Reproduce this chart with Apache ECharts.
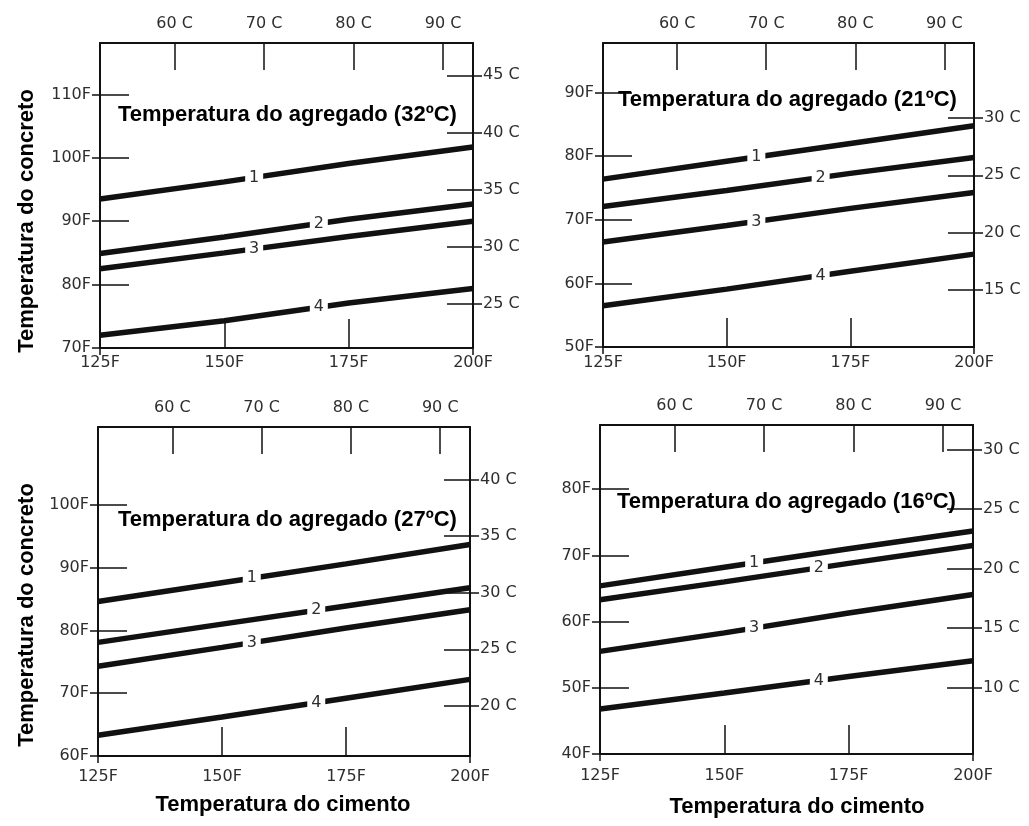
<!DOCTYPE html>
<html>
<head>
<meta charset="utf-8">
<script src="https://cdn.jsdelivr.net/npm/echarts@6/dist/echarts.min.js"></script>
<style>
  html, body { margin: 0; padding: 0; background: #fff; }
  #chart { width: 1029px; height: 826px; }
</style>
</head>
<body>
<div id="chart"></div>
<script>
// Cement temperature (°F) at which every curve is sampled
const cementF = [125, 150, 175, 200];
// Bottom (°F) and top (°C) tick values for cement temperature
const cementTicksF = [125, 150, 175, 200];
const cementTicksC = [60, 70, 80, 90];
// Curve identifiers and the cement temperature where each label sits
const curveIds = ['1', '2', '3', '4'];
const curveLabelF = [156, 169, 156, 169];

const panelTitles = [
  'Temperatura do agregado (32ºC)',
  'Temperatura do agregado (21ºC)',
  'Temperatura do agregado (27ºC)',
  'Temperatura do agregado (16ºC)'
];
const yName = 'Temperatura do concreto';
const xName = 'Temperatura do cimento';

// Aggregate at 32 °C: concrete temperature (°F)
const agg32Curve1 = [93.5, 96.2, 99.1, 101.7];
const agg32Curve2 = [84.9, 87.5, 90.3, 92.7];
const agg32Curve3 = [82.5, 85.0, 87.6, 90.0];
const agg32Curve4 = [72.0, 74.3, 77.1, 79.4];
const agg32TicksF = [70, 80, 90, 100, 110];
const agg32TicksC = [25, 30, 35, 40, 45];
const agg32RangeF = [70, 118.1];

// Aggregate at 21 °C
const agg21Curve1 = [76.4, 79.2, 82.0, 84.8];
const agg21Curve2 = [72.1, 74.6, 77.3, 79.8];
const agg21Curve3 = [66.5, 69.1, 71.8, 74.3];
const agg21Curve4 = [56.5, 59.1, 61.9, 64.6];
const agg21TicksF = [50, 60, 70, 80, 90];
const agg21TicksC = [15, 20, 25, 30];
const agg21RangeF = [50, 97.8];

// Aggregate at 27 °C
const agg27Curve1 = [84.6, 87.6, 90.6, 93.7];
const agg27Curve2 = [78.1, 81.0, 83.9, 86.8];
const agg27Curve3 = [74.3, 77.3, 80.4, 83.3];
const agg27Curve4 = [63.3, 66.2, 69.2, 72.2];
const agg27TicksF = [60, 70, 80, 90, 100];
const agg27TicksC = [20, 25, 30, 35, 40];
const agg27RangeF = [60, 112.4];

// Aggregate at 16 °C
const agg16Curve1 = [65.4, 68.2, 71.0, 73.7];
const agg16Curve2 = [63.3, 66.0, 68.8, 71.5];
const agg16Curve3 = [55.5, 58.3, 61.3, 64.1];
const agg16Curve4 = [46.8, 49.2, 51.7, 54.1];
const agg16TicksF = [40, 50, 60, 70, 80];
const agg16TicksC = [10, 15, 20, 25, 30];
const agg16RangeF = [40, 89.7];

const fToC = f => (f - 32) * 5 / 9;
const interp = (xs, ys, x) => {
  for (let j = 0; j < xs.length - 1; j++) {
    if (x >= xs[j] && x <= xs[j + 1]) {
      const t = (x - xs[j]) / (xs[j + 1] - xs[j]);
      return ys[j] + t * (ys[j + 1] - ys[j]);
    }
  }
  return ys[ys.length - 1];
};

const INK = '#111';
const LETTER = '#2e2e2e';
const TICK_FONT = 'DejaVu Sans';
const BOLD_FONT = 'bold 22px "Liberation Sans", Arial, sans-serif';

const panels = [
  { title: panelTitles[0], curves: [agg32Curve1, agg32Curve2, agg32Curve3, agg32Curve4],
    ticksF: agg32TicksF, ticksC: agg32TicksC, rangeF: agg32RangeF,
    box: { left: 100, top: 43, width: 373, height: 305 }, titleAt: [118, 115], bottomMargin: 7 },
  { title: panelTitles[1], curves: [agg21Curve1, agg21Curve2, agg21Curve3, agg21Curve4],
    ticksF: agg21TicksF, ticksC: agg21TicksC, rangeF: agg21RangeF,
    box: { left: 603, top: 43, width: 371, height: 304 }, titleAt: [618, 100], bottomMargin: 8 },
  { title: panelTitles[2], curves: [agg27Curve1, agg27Curve2, agg27Curve3, agg27Curve4],
    ticksF: agg27TicksF, ticksC: agg27TicksC, rangeF: agg27RangeF,
    box: { left: 98, top: 427, width: 372, height: 329 }, titleAt: [118, 520], bottomMargin: 13 },
  { title: panelTitles[3], curves: [agg16Curve1, agg16Curve2, agg16Curve3, agg16Curve4],
    ticksF: agg16TicksF, ticksC: agg16TicksC, rangeF: agg16RangeF,
    box: { left: 600, top: 425, width: 373, height: 329 }, titleAt: [617, 502], bottomMargin: 14 }
];

const grid = [], xAxis = [], yAxis = [], series = [], graphic = [];
const border = { color: INK, width: 2 };
const tickLine = { color: INK, width: 1.5 };
const labelStyle = { color: LETTER, fontFamily: TICK_FONT, fontSize: 16 };

panels.forEach((p, i) => {
  grid.push({
    left: p.box.left, top: p.box.top, width: p.box.width, height: p.box.height,
    containLabel: false, outerBoundsMode: 'none', show: false
  });

  const base = { type: 'value', gridIndex: i, splitLine: { show: false } };
  const firstF = cementTicksF[0], lastF = cementTicksF[cementTicksF.length - 1];

  // bottom axis: °F labels with short outward ticks at the corners
  xAxis.push(Object.assign({}, base, {
    position: 'bottom', min: firstF, max: lastF,
    axisLine: { show: true, onZero: false, lineStyle: border },
    axisTick: { show: true, inside: false, length: 7, customValues: [firstF, lastF], lineStyle: tickLine },
    axisLabel: Object.assign({ show: true, customValues: cementTicksF, formatter: v => v + 'F', margin: p.bottomMargin }, labelStyle)
  }));
  // bottom axis: inward ticks
  xAxis.push(Object.assign({}, base, {
    position: 'bottom', min: firstF, max: lastF,
    axisLine: { show: false, onZero: false },
    axisTick: { show: true, inside: true, length: 29, customValues: cementTicksF.slice(1, -1), lineStyle: tickLine },
    axisLabel: { show: false }
  }));
  // top axis: cement temperature in °C
  xAxis.push(Object.assign({}, base, {
    position: 'top', min: fToC(firstF), max: fToC(lastF),
    axisLine: { show: true, onZero: false, lineStyle: border },
    axisTick: { show: true, inside: true, length: 27, customValues: cementTicksC, lineStyle: tickLine },
    axisLabel: Object.assign({ show: true, customValues: cementTicksC, formatter: v => v + ' C', margin: 11 }, labelStyle)
  }));

  // left axis: concrete °F, labels and outward ticks
  yAxis.push(Object.assign({}, base, {
    position: 'left', min: p.rangeF[0], max: p.rangeF[1],
    axisLine: { show: true, onZero: false, lineStyle: border },
    axisTick: { show: true, inside: false, length: 8, customValues: p.ticksF, lineStyle: tickLine },
    axisLabel: Object.assign({ show: true, customValues: p.ticksF, formatter: v => v + 'F', margin: 9 }, labelStyle)
  }));
  // left axis: inward ticks
  yAxis.push(Object.assign({}, base, {
    position: 'left', min: p.rangeF[0], max: p.rangeF[1],
    axisLine: { show: false, onZero: false },
    axisTick: { show: true, inside: true, length: 29, customValues: p.ticksF, lineStyle: tickLine },
    axisLabel: { show: false }
  }));
  // right axis: concrete °C, labels and outward ticks
  yAxis.push(Object.assign({}, base, {
    position: 'right', min: fToC(p.rangeF[0]), max: fToC(p.rangeF[1]),
    axisLine: { show: true, onZero: false, lineStyle: border },
    axisTick: { show: true, inside: false, length: 9, customValues: p.ticksC, lineStyle: tickLine },
    axisLabel: Object.assign({ show: true, customValues: p.ticksC, formatter: v => v + ' C', margin: 10 }, labelStyle)
  }));
  // right axis: inward ticks
  yAxis.push(Object.assign({}, base, {
    position: 'right', min: fToC(p.rangeF[0]), max: fToC(p.rangeF[1]),
    axisLine: { show: false, onZero: false },
    axisTick: { show: true, inside: true, length: 26, customValues: p.ticksC, lineStyle: tickLine },
    axisLabel: { show: false }
  }));

  p.curves.forEach((vals, k) => {
    const lf = curveLabelF[k];
    series.push({
      type: 'line', name: curveIds[k],
      xAxisIndex: 3 * i, yAxisIndex: 4 * i,
      data: cementF.map((f, j) => [f, vals[j]]),
      symbol: 'none', silent: true,
      lineStyle: { color: INK, width: 5.5 },
      markPoint: {
        silent: true, symbol: 'rect', symbolSize: [18, 15],
        itemStyle: { color: '#fff' },
        label: { show: true, position: 'inside', formatter: curveIds[k], color: LETTER, fontFamily: TICK_FONT, fontSize: 16 },
        data: [{ coord: [lf, interp(cementF, vals, lf)] }]
      }
    });
  });

  graphic.push({
    type: 'text', x: p.titleAt[0], y: p.titleAt[1], z: 100,
    style: { text: p.title, font: BOLD_FONT, fill: '#000', align: 'left', verticalAlign: 'middle' }
  });
});

// shared axis names
[[27, 221], [27, 615]].forEach(([x, y]) => graphic.push({
  type: 'text', x, y, rotation: Math.PI / 2,
  style: { text: yName, font: BOLD_FONT, fill: '#000', align: 'center', verticalAlign: 'middle' }
}));
[[283, 805], [797, 807]].forEach(([x, y]) => graphic.push({
  type: 'text', x, y,
  style: { text: xName, font: BOLD_FONT, fill: '#000', align: 'center', verticalAlign: 'middle' }
}));

const chart = echarts.init(document.getElementById('chart'));
chart.setOption({
  backgroundColor: '#fff',
  animation: false,
  grid, xAxis, yAxis, series, graphic
});
</script>
</body>
</html>
